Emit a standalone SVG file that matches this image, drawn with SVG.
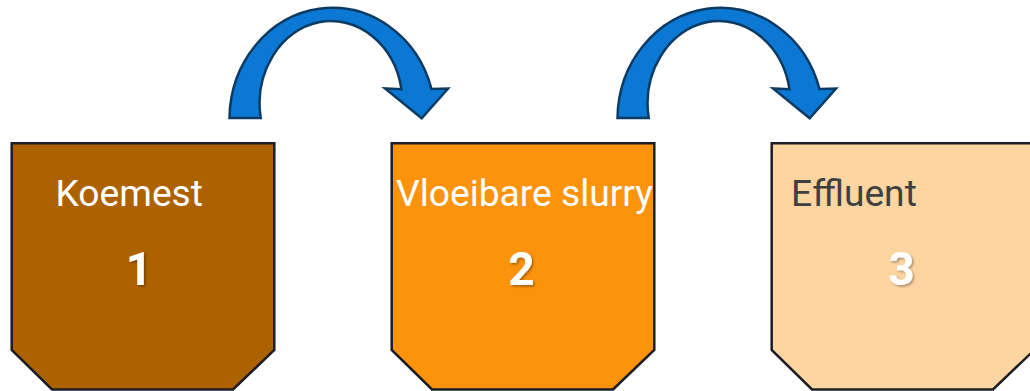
<svg xmlns="http://www.w3.org/2000/svg" width="1030" height="391" viewBox="0 0 1030 391">
<defs>
<style>
.box{stroke:#1c1c24;stroke-width:2.5;stroke-linejoin:miter}
.arrow{fill:#0B79D3;stroke:#0B3A63;stroke-width:2.5;stroke-linejoin:miter}
.lbl{font-family:Roboto,"Liberation Sans",sans-serif;font-size:37.2px}
.num{font-family:Roboto,"Liberation Sans",sans-serif;font-size:46px;font-weight:bold;fill:#ffffff;text-anchor:middle;filter:url(#sh)}
</style>
<filter id="sh" x="-30%" y="-30%" width="160%" height="160%">
<feDropShadow dx="1.5" dy="1.5" stdDeviation="1" flood-color="#000" flood-opacity="0.35"/>
</filter>
<path id="arr" d="M229.5,118 A103,112 0 0 1 431.5,89 L448,88.5 L421.7,118.3 L385,88.5 L401.5,89.3 A71,82 0 0 0 260.7,118 Z"/>
</defs>
<g id="connectors">
<use href="#arr" class="arrow"/>
<use href="#arr" class="arrow" x="388"/>
</g>
<g id="node1">
<path class="box" fill="#AD6200" d="M11.7,143.3 H274.3 V350 L233,389.5 H52 L11.7,350 Z"/>
<text class="lbl" x="55.5" y="205.5" fill="#ffffff">Koemest</text>
<text class="num" x="139" y="285">1</text>
</g>
<g id="node2">
<path class="box" fill="#FB930D" d="M391.7,143.3 H654.3 V350 L613,389.5 H432 L391.7,350 Z"/>
<text class="lbl" x="396" y="205.5" fill="#ffffff">Vloeibare slurry</text>
<text class="num" x="521.5" y="285">2</text>
</g>
<g id="node3">
<path class="box" fill="#FDD5A1" d="M771.7,143.3 H1034.3 V350 L993,389.5 H812 L771.7,350 Z"/>
<text class="lbl" x="791" y="205.5" fill="#404040">Effluent</text>
<text class="num" x="901.5" y="285">3</text>
</g>
</svg>
